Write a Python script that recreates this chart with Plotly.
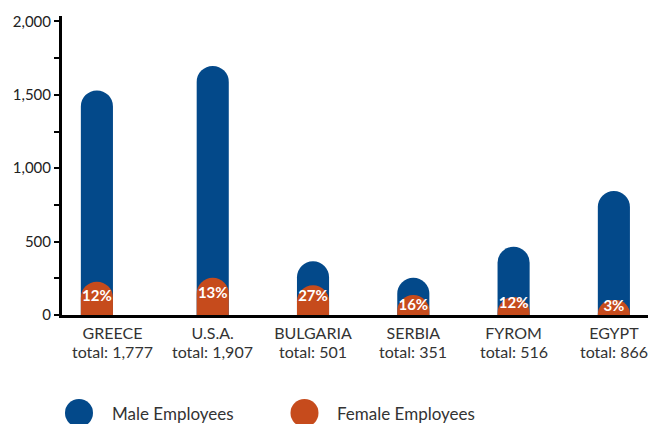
import plotly.graph_objects as go

countries = ["GREECE", "U.S.A.", "BULGARIA", "SERBIA", "FYROM", "EGYPT"]
totals = ["1,777", "1,907", "501", "351", "516", "866"]
male_bar = [1530, 1697, 366, 254, 465, 845]
female_bar = [227, 254, 202, 136, 123, 102]
female_pct = ["12%", "13%", "27%", "16%", "12%", "3%"]

BLUE = "#03498A"
ORANGE = "#C64B1C"
FONT = "Lato"

# the page body has an 8px margin: figure is sized so page pixels match the reference
OFF = 8
W, H = 656 - OFF, 424 - OFF
L = 62 - OFF
T = 16 - OFF
AXIS_Y = 315 - OFF
B = H - AXIS_Y
plot_w = W - L
plot_h = H - T - B

def py(page_y):
    return (AXIS_Y - (page_y - OFF)) / plot_h

def px(page_x):
    return ((page_x - OFF) - L) / plot_w

pos = list(range(len(countries)))
bar_w = 0.32
shift = [-0.155] + [0.0] * (len(countries) - 1)
offsets = [s - bar_w / 2 for s in shift]
label_x = [p + s for p, s in zip(pos, shift)]
label_gap = [11, 13, 5, 4, 0, 0]  # invisible marker sizes -> pixel gap under bar top
YR = [0, 2037]

fig = go.Figure()
fig.add_trace(go.Bar(
    x=pos, y=male_bar, name="Male Employees",
    marker=dict(color=BLUE, cornerradius="50%", line=dict(width=0)),
    width=bar_w, offset=offsets, showlegend=False, hoverinfo="skip",
))
fig.add_trace(go.Bar(
    x=pos, y=female_bar, name="Female Employees", yaxis="y2",
    marker=dict(color=ORANGE, cornerradius="50%", line=dict(width=0)),
    width=bar_w, offset=offsets, showlegend=False, hoverinfo="skip",
))
fig.add_trace(go.Scatter(
    x=label_x, y=female_bar, yaxis="y2", mode="markers+text", text=female_pct,
    marker=dict(size=label_gap, opacity=0),
    textposition="bottom center", showlegend=False, hoverinfo="skip",
    textfont=dict(family=FONT, size=15, color="white", weight="bold"),
    cliponaxis=False,
))

fig.update_layout(
    width=W, height=H,
    margin=dict(l=L, r=0, t=T, b=B, pad=0),
    barmode="overlay",
    plot_bgcolor="white", paper_bgcolor="white",
    font=dict(family=FONT, size=16, color="#333333"),
    showlegend=False,
    xaxis=dict(
        range=[-0.503, 5.42], tickvals=pos, ticktext=countries,
        showline=True, linecolor="black", linewidth=3,
        ticks="", showgrid=False, zeroline=False, ticklabelstandoff=2,
        tickfont=dict(family=FONT, size=16, color="#333333"),
    ),
    yaxis=dict(
        range=YR, tickvals=[0, 500, 1000, 1500, 2000], tickformat=",",
        showline=True, linecolor="black", linewidth=3,
        ticks="outside", ticklen=5, tickwidth=2, tickcolor="black",
        minor=dict(tickvals=[250, 750, 1250, 1750], ticks="outside", ticklen=5, tickwidth=2, tickcolor="black"),
        showgrid=False, zeroline=False,
        tickfont=dict(family=FONT, size=15, color="#222222"),
    ),
    yaxis2=dict(overlaying="y", range=YR, visible=False, showgrid=False, zeroline=False),
)

# second line of each category label
for p, t in zip(pos, totals):
    fig.add_annotation(
        x=p, xref="x", yref="paper", y=py(351), yanchor="middle",
        text=f"total: {t}", showarrow=False,
        font=dict(family=FONT, size=16, color="#333333"),
    )

# custom legend (large circles)
legend_items = [("Male Employees", BLUE, 79, 110), ("Female Employees", ORANGE, 304.5, 335)]
cy = 413
for name, col, cx, tx in legend_items:
    fig.add_shape(
        type="circle", xref="paper", yref="paper",
        xsizemode="pixel", ysizemode="pixel",
        xanchor=px(cx), yanchor=py(cy),
        x0=-14, x1=14, y0=-14, y1=14,
        fillcolor=col, line=dict(width=0),
    )
    fig.add_annotation(
        xref="paper", yref="paper", x=px(tx), y=py(cy),
        xanchor="left", yanchor="middle", text=name, showarrow=False,
        font=dict(family=FONT, size=17, color="#333333"),
    )

fig.write_html("out.html")
